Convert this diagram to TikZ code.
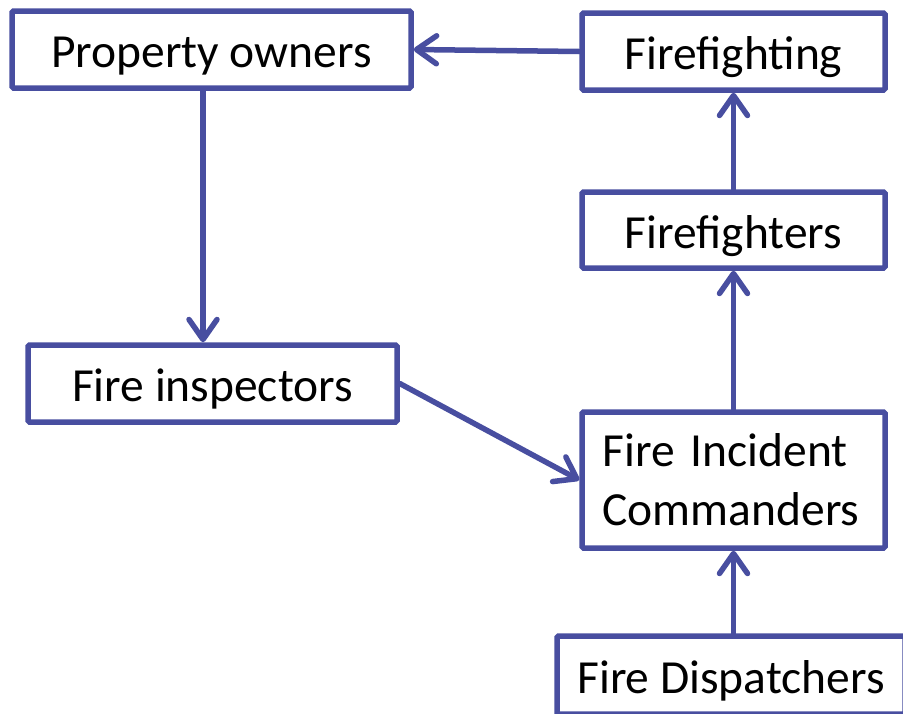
\documentclass[tikz,border=0pt]{standalone}
\usepackage{fontspec}
\setmainfont{Carlito}
\usetikzlibrary{arrows.meta}
\definecolor{edgeblue}{RGB}{72,78,160}
\begin{document}
\begin{tikzpicture}[x=1pt,y=-1pt,
  box/.style={draw=edgeblue, line width=5.5pt, rounded corners=1.5pt, inner sep=0pt,
    font=\fontsize{47.5}{59}\selectfont},
  oneline/.style={text height=36pt, text depth=0pt},
  arr/.style={draw=edgeblue, line width=5.5pt, line cap=round,
    -{Straight Barb[length=20pt,width=28pt,line cap=round,line join=round]}}]
\useasboundingbox (0,0) rectangle (903,713);
\clip (0,0) rectangle (903,713);
\node[box, oneline, minimum width=399pt, minimum height=77pt] (po) at (211.5,49.5) {Property owners};
\node[box, oneline, minimum width=303pt, minimum height=77pt] (ffing) at (733.5,51.5) {Firefighting};
\node[box, oneline, minimum width=303pt, minimum height=76pt] (ffers) at (733.5,230) {Firefighters};
\node[box, oneline, minimum width=369pt, minimum height=77pt] (insp) at (212.5,383.5) {Fire inspectors};
\node[box, minimum width=303pt, minimum height=136pt, text width=262pt, align=left] (cmd) at (733.5,480) {Fire Incident\\Commanders};
\node[box, oneline, minimum width=348pt, minimum height=78pt] (disp) at (731,675) {Fire Dispatchers};
\draw[arr] (ffing.west) -- (po.east);
\draw[arr] ([xshift=-8.5pt]po.south) -- ([xshift=-8.5pt]po.south |- insp.north);
\draw[arr] (insp.east) -- (cmd.west);
\draw[arr] (ffers.north) -- (ffing.south);
\draw[arr] (cmd.north) -- (ffers.south);
\draw[arr] (disp.north -| cmd.south) -- (cmd.south);
\end{tikzpicture}
\end{document}
